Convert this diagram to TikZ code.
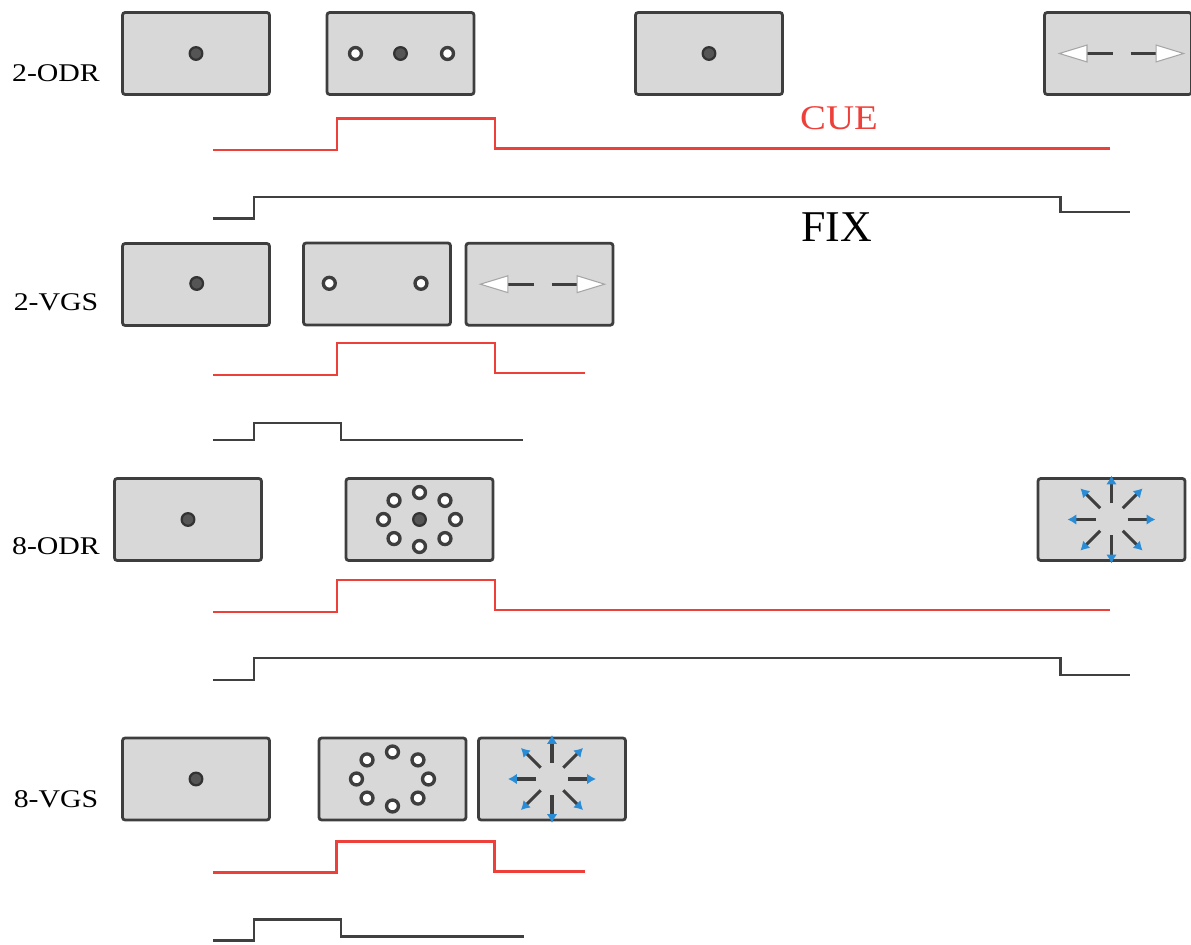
\documentclass[tikz,border=0pt]{standalone}
\usepackage{fontspec}
\setmainfont{Liberation Serif}
\usetikzlibrary{arrows.meta, calc}
\definecolor{screengray}{RGB}{216,216,216}
\definecolor{framegray}{RGB}{62,62,62}
\definecolor{cuered}{RGB}{238,64,58}
\definecolor{fixgray}{RGB}{64,64,64}
\definecolor{dotgray}{RGB}{85,85,85}
\definecolor{saccblue}{RGB}{40,140,215}

\begin{document}
\begin{tikzpicture}[x=0.02cm, y=-0.02cm,
    screen/.style={draw=framegray, fill=screengray, line width=1.6pt, rounded corners=1.5pt,
        minimum width=2.94cm, minimum height=1.64cm, inner sep=0pt},
    fixdot/.style={draw=black!80, fill=dotgray, line width=1.3pt},
    target/.style={draw=framegray, fill=white, line width=1.9pt},
    cueline/.style={cuered, line width=1.7pt},
    fixline/.style={fixgray, line width=1.7pt},
    saccade/.style={framegray, line width=1.8pt, -{Latex[color=saccblue, length=5pt, width=6pt]}},
    choice/.style={framegray, line width=1.8pt,
        -{Triangle[color=black!35, fill=white, line width=0.6pt, length=0.6cm, width=0.36cm]}},
    task/.style={font=\fontsize{14.5}{16}\selectfont}]
    \useasboundingbox (0,0) rectangle (1191,945);

    % 2-ODR
    \node[task] (odrtwo) at (56,73.5) {\scalebox{1.17}[1]{2-ODR}};
    \node[screen] (fixA) at (196,53.5) {};
    \node[screen] (cueA) at (400.5,53.5) {};
    \node[screen] (delayA) at (709,53.5) {};
    \node[screen] (goA) at (1118,53.5) {};
    \filldraw[fixdot] (fixA) circle[radius=3.6pt];
    \filldraw[fixdot] (cueA) circle[radius=3.6pt];
    \filldraw[target] ($(cueA)+(-45,0)$) circle[radius=3.4pt];
    \filldraw[target] ($(cueA)+(47,0)$) circle[radius=3.4pt];
    \filldraw[fixdot] (delayA) circle[radius=3.6pt];
    \coordinate (goAc) at ($(goA)+(3.5,0)$);
    \draw[choice] ($(goAc)+(-9,0)$) -- ($(goAc)+(-64,0)$);
    \draw[choice] ($(goAc)+(9,0)$) -- ($(goAc)+(64,0)$);
    \draw[cueline] (213,150) -| (337,118.3) -| (495,148.3) -- (1110,148.3);
    \draw[fixline] (213,218.3) -| (254,197) -| (1060,212) -- (1130,212);
    \node[text=cuered, font=\fontsize{19.7}{22}\selectfont] (cuetext) at (839,118.3) {\scalebox{1.12}[1]{CUE}};
    \node[font=\fontsize{25}{28}\selectfont] (fixtext) at (836.5,226.7) {FIX};

    % 2-VGS
    \node[task] (vgstwo) at (56,302.5) {\scalebox{1.17}[1]{2-VGS}};
    \node[screen] (fixB) at (196,284.5) {};
    \node[screen] (cueB) at (377,284) {};
    \node[screen] (goB) at (539.5,284.2) {};
    \filldraw[fixdot] ($(fixB)+(0.7,-1)$) circle[radius=3.6pt];
    \filldraw[target] ($(cueB)+(-47.7,-0.7)$) circle[radius=3.4pt];
    \filldraw[target] ($(cueB)+(44,-0.7)$) circle[radius=3.4pt];
    \coordinate (goBc) at ($(goB)+(3,0)$);
    \draw[choice] ($(goBc)+(-9,0)$) -- ($(goBc)+(-64,0)$);
    \draw[choice] ($(goBc)+(9,0)$) -- ($(goBc)+(64,0)$);
    \draw[cueline] (213,375) -| (337,343) -| (495,373) -- (585,373);
    \draw[fixline] (213,440) -| (254,423) -| (341,440) -- (523,440);

    % 8-ODR
    \node[task] (odreight) at (56,546) {\scalebox{1.17}[1]{8-ODR}};
    \node[screen] (fixC) at (188,519.5) {};
    \node[screen] (cueC) at (419.5,519.5) {};
    \node[screen] (goC) at (1111.5,519.5) {};
    \filldraw[fixdot] (fixC) circle[radius=3.6pt];
    \filldraw[fixdot] (cueC) circle[radius=3.6pt];
    \foreach \a in {0,45,...,315}
        \filldraw[target] ($(cueC)+({36*cos(\a)},{27*sin(\a)})$) circle[radius=3.4pt];
    \foreach \a in {0,45,...,315}
        \draw[saccade] ($(goC)+({16*cos(\a)},{16*sin(\a)})$) -- ($(goC)+({44*cos(\a)},{44*sin(\a)})$);
    \draw[cueline] (213,612) -| (337,580) -| (495,610) -- (1110,610);
    \draw[fixline] (213,680) -| (254,658) -| (1060,675) -- (1130,675);

    % 8-VGS
    \node[task] (vgseight) at (56,799) {\scalebox{1.17}[1]{8-VGS}};
    \node[screen] (fixD) at (196,779) {};
    \node[screen] (cueD) at (392.5,779) {};
    \node[screen] (goD) at (552,779) {};
    \filldraw[fixdot] (fixD) circle[radius=3.6pt];
    \foreach \a in {0,45,...,315}
        \filldraw[target] ($(cueD)+({36*cos(\a)},{27*sin(\a)})$) circle[radius=3.4pt];
    \foreach \a in {0,45,...,315}
        \draw[saccade] ($(goD)+({16*cos(\a)},{16*sin(\a)})$) -- ($(goD)+({44*cos(\a)},{44*sin(\a)})$);
    \draw[cueline] (213,872.7) -| (336.5,841.7) -| (494.6,871.7) -- (585,871.7);
    \draw[fixline] (213,940.7) -| (254,919.3) -| (341,936.7) -- (524,936.7);
\end{tikzpicture}
\end{document}
